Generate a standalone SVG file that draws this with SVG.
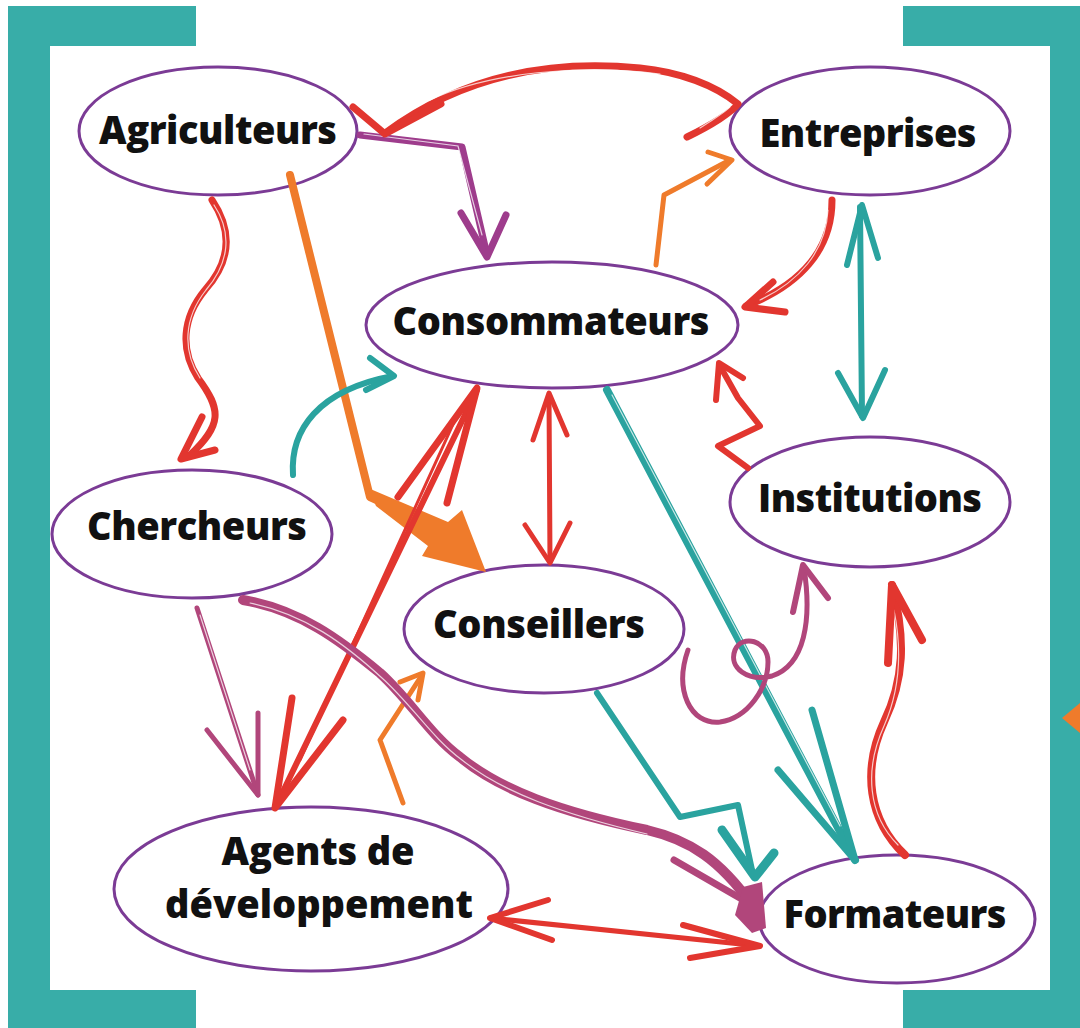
<svg xmlns="http://www.w3.org/2000/svg" width="1080" height="1028" viewBox="0 0 1080 1028">
<style>
.frame{fill:#38ada8}
.node ellipse{fill:#fff;stroke:#7b3b95;stroke-width:3}
.node text{font-family:"Open Sans","Liberation Sans",sans-serif;font-weight:800;font-size:38px;fill:#111;text-anchor:middle}
.c{fill:none;stroke-linecap:round;stroke-linejoin:round}
.red{stroke:#e2362f}
.org{stroke:#ef7b2b}
.teal{stroke:#2aa39f}
.pur{stroke:#9e3c8c}
.mau{stroke:#b1467b}
.hl{fill:none;stroke:#fff;stroke-width:1.2;opacity:.75;stroke-linecap:round}
</style>
<rect width="1080" height="1028" fill="#fff"/>
<g id="frame">
<rect class="frame" x="8" y="6" width="42" height="1022"/>
<rect class="frame" x="8" y="6" width="188" height="40"/>
<rect class="frame" x="8" y="990" width="188" height="38"/>
<rect class="frame" x="1050" y="6" width="30" height="1022"/>
<rect class="frame" x="903" y="6" width="177" height="40"/>
<rect class="frame" x="903" y="990" width="177" height="38"/>
<polygon points="1062,718 1080,703 1080,733" fill="#ef7b2b"/>
</g>
<g id="node-agriculteurs" class="node"><ellipse cx="218" cy="131" rx="139" ry="64"/><text x="218" y="144" textLength="238">Agriculteurs</text></g>
<g id="node-entreprises" class="node"><ellipse cx="870" cy="131" rx="140" ry="64"/><text x="868" y="147" textLength="217">Entreprises</text></g>
<g id="node-consommateurs" class="node"><ellipse cx="552" cy="325" rx="186" ry="63"/><text x="551" y="335" textLength="317">Consommateurs</text></g>
<g id="node-institutions" class="node"><ellipse cx="870" cy="502" rx="140" ry="65"/><text x="870" y="512" textLength="224">Institutions</text></g>
<g id="node-chercheurs" class="node"><ellipse cx="192" cy="534" rx="140" ry="64"/><text x="197" y="540" textLength="220">Chercheurs</text></g>
<g id="node-conseillers" class="node"><ellipse cx="544" cy="629" rx="140" ry="64"/><text x="539" y="638" textLength="212">Conseillers</text></g>
<g id="node-agents" class="node"><ellipse cx="311" cy="889" rx="197" ry="82"/><text x="318" y="865" textLength="193">Agents de</text><text x="319" y="918" textLength="308">développement</text></g>
<g id="node-formateurs" class="node"><ellipse cx="897" cy="919" rx="138" ry="64"/><text x="895" y="928" textLength="223">Formateurs</text></g>
<g id="connectors">
<!-- Agriculteurs -> Chercheurs -->
<path class="c red" stroke-width="7" d="M212,200 C232,230 232,260 205,290 C182,318 180,350 198,378 C222,410 222,425 190,455"/>
<path class="hl" d="M214,205 C232,232 230,262 206,290 C184,318 182,350 200,378"/>
<path class="c red" stroke-width="7" d="M202,417 L181,459 L215,450"/>
<!-- Agriculteurs -> Consommateurs -->
<path class="c pur" stroke-width="7" d="M360,135 L462,147 L487,255"/>
<path class="hl" d="M364,134 L458,146 L482,235"/>
<path class="c pur" stroke-width="7" d="M461,213 L487,257 L506,215"/>
<!-- Agriculteurs -> Conseillers -->
<path class="c org" stroke-width="8" d="M290,175 L370,497 L435,527"/>
<polygon fill="#ef7b2b" points="368,488 376,506 428,546 422,556 486,572 462,510 448,522"/>
<!-- Entreprises -> Agriculteurs -->
<path class="c red" stroke-width="7" d="M687,137 C712,125 732,112 738,104 C715,85 680,72 640,68 C560,60 470,70 385,133"/>
<path class="hl" d="M700,128 C715,118 726,112 730,107 M660,74 C580,64 490,72 430,100"/>
<path class="c red" stroke-width="7" d="M353,107 L385,134 L441,104"/>
<!-- Consommateurs -> Entreprises -->
<path class="c org" stroke-width="5" d="M656,265 L664,195 L730,160"/>
<path class="c org" stroke-width="5" d="M708,152 L732,160 L707,184"/>
<!-- Entreprises -> Consommateurs -->
<path class="c red" stroke-width="7" d="M832,200 C832,250 800,285 746,306"/>
<path class="hl" d="M828,210 C826,252 798,282 760,300"/>
<path class="c red" stroke-width="7" d="M773,282 L745,307 L785,312"/>
<!-- Entreprises <-> Institutions -->
<path class="c teal" stroke-width="6" d="M860,207 L862,416"/>
<path class="c teal" stroke-width="6" d="M847,265 L862,205 L878,258"/>
<path class="c teal" stroke-width="6" d="M838,373 L863,418 L885,370"/>
<!-- Institutions -> Consommateurs -->
<path class="c red" stroke-width="6" d="M748,468 L718,446 L760,426 L738,398 L720,366"/>
<path class="c red" stroke-width="6" d="M716,400 L719,363 L743,378"/>
<!-- Consommateurs -> Formateurs -->
<path class="c teal" stroke-width="8" d="M607,390 L855,860"/>
<path class="hl" d="M612,395 L840,826"/>
<path class="c teal" stroke-width="7" d="M778,770 L855,860 L812,710"/>
<!-- Conseillers -> Formateurs -->
<path class="c teal" stroke-width="6" d="M597,693 L680,817 L738,805 L752,870"/>
<path class="c teal" stroke-width="9" d="M722,830 L755,877 L774,853"/>
<!-- Conseillers -> Institutions (loop) -->
<path class="c mau" stroke-width="5" d="M688,650 C674,690 690,725 720,722 C748,718 768,688 768,662 C768,640 742,634 735,650 C728,668 748,682 772,676 C805,665 812,620 804,568"/>
<path class="c mau" stroke-width="6" d="M793,612 L803,565 L828,598"/>
<!-- Formateurs -> Institutions -->
<path class="c red" stroke-width="8" d="M905,855 C868,820 862,770 884,722 C904,680 906,640 892,585"/>
<path class="hl" d="M898,845 C868,815 864,770 884,726 C900,690 902,650 894,610"/>
<path class="c red" stroke-width="8" d="M888,663 L892,585 L922,640"/>
<!-- Agents <-> Formateurs -->
<path class="c red" stroke-width="5" d="M490,918 L760,946"/>
<path class="c red" stroke-width="6" d="M548,900 L490,918 L552,940"/>
<path class="c red" stroke-width="6" d="M683,925 L760,946 L690,958"/>
<!-- Agents <-> Consommateurs -->
<path class="c red" stroke-width="6" d="M477,390 L275,808"/>
<path class="c red" stroke-width="3" d="M455,420 L300,760"/>
<path class="c red" stroke-width="7" d="M398,497 L477,388 L447,503"/>
<path class="c red" stroke-width="7" d="M292,698 L275,808 L343,720"/>
<!-- Chercheurs -> Agents -->
<path class="c mau" stroke-width="5" d="M197,608 L258,795"/>
<path class="hl" d="M200,615 L250,770"/>
<path class="c mau" stroke-width="5" d="M207,730 L258,795 L258,713"/>
<!-- Chercheurs -> Consommateurs -->
<path class="c teal" stroke-width="6" d="M293,475 C290,430 318,390 393,376"/>
<path class="c teal" stroke-width="6" d="M370,358 L394,376 L366,390"/>
<!-- Consommateurs <-> Conseillers -->
<path class="c red" stroke-width="5" d="M549,395 L550,562"/>
<path class="c red" stroke-width="5" d="M533,440 L549,393 L567,435"/>
<path class="c red" stroke-width="5" d="M525,525 L550,563 L570,523"/>
<!-- Agents -> Conseillers -->
<path class="c org" stroke-width="5" d="M403,803 L380,740 L422,675"/>
<path class="c org" stroke-width="5" d="M400,682 L423,673 L418,700"/>
<!-- Chercheurs -> Formateurs -->
<path class="c mau" stroke-width="10" d="M243,600 C300,610 340,640 380,673 C410,700 430,735 460,757 C500,790 560,812 647,830 C690,840 720,860 752,905"/>
<path class="hl" d="M250,603 C305,614 345,644 382,678 C412,705 432,738 462,760 C502,792 562,814 647,834"/>
<path class="c mau" stroke-width="7" d="M674,860 L752,905"/>
<polygon fill="#b1467b" points="743,887 762,882 766,928 752,933 735,915"/>
</g>
</svg>
